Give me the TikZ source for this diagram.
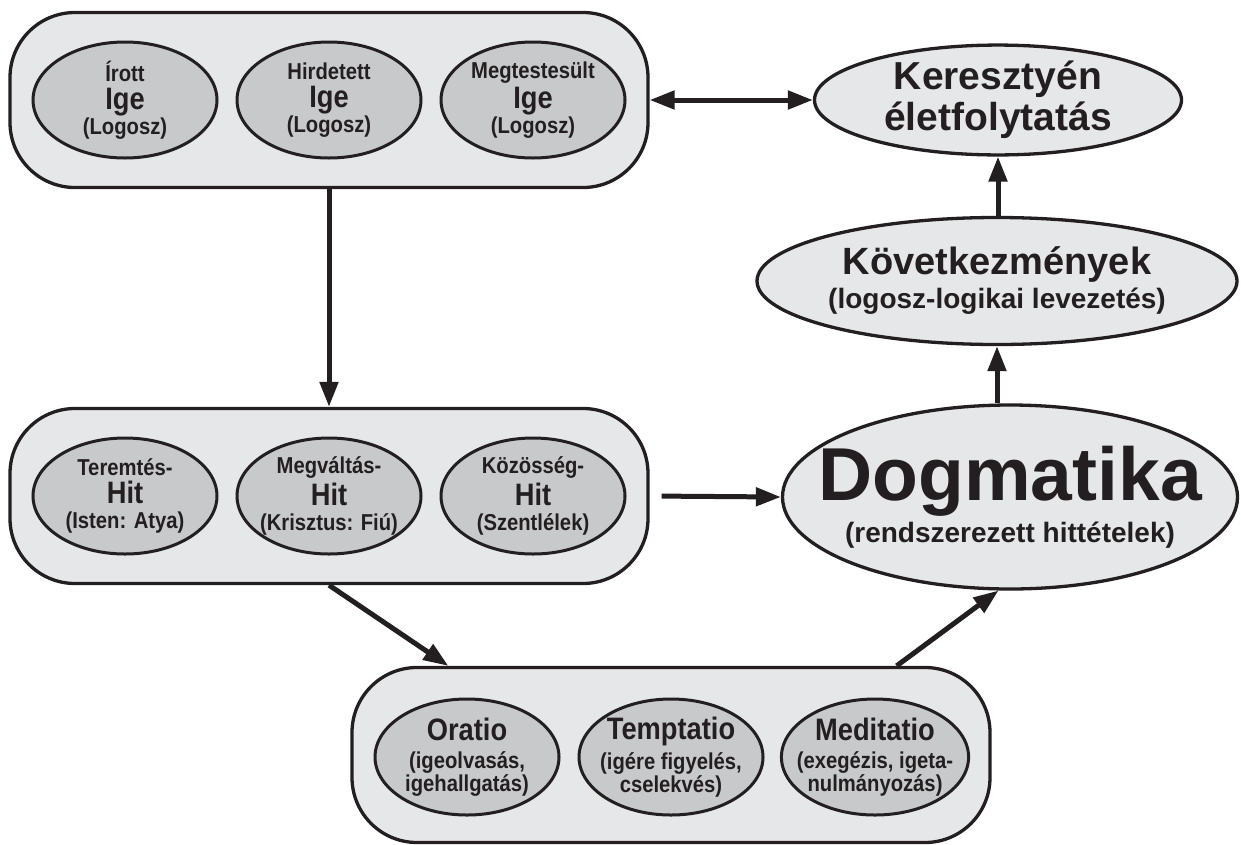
\documentclass[tikz,border=0pt]{standalone}
\usepackage{fontspec}
\setmainfont{Liberation Sans}
\newfontfamily\narrowfont{Liberation Sans}[FakeStretch=0.88]
\usetikzlibrary{arrows.meta,shapes.geometric}
\definecolor{boxgray}{HTML}{E6E7E8}
\definecolor{ovalgray}{HTML}{C8C9CB}
\definecolor{ink}{HTML}{231F20}

\begin{document}
\begin{tikzpicture}[x=1pt, y=-1pt,
		>={Triangle[length=25pt,width=18pt]},
		group/.style={draw=ink, line width=3.3pt, fill=boxgray, rounded corners=65pt, minimum width=638pt, minimum height=175pt},
		part/.style={ellipse, draw=ink, line width=3pt, fill=ovalgray, text=ink, minimum width=184pt, minimum height=116pt, inner xsep=-12pt, inner ysep=0pt, align=center, font=\narrowfont\bfseries\fontsize{23}{25}\selectfont},
		goal/.style={ellipse, draw=ink, line width=3.3pt, fill=boxgray, text=ink, inner sep=0pt, align=center},
		arr/.style={draw=ink, line width=5pt, ->}]
	\useasboundingbox (0,0) rectangle (1241,844);

	% Ige
	\node[group] (ige) at (329,100) {};
	\foreach \x/\n/\a in {125/irott/Írott, 329/hirdetett/Hirdetett, 533/megtest/Megtestesült} {
			\node[part] (\n) at (\x,100) {\a\\[3pt]{\fontsize{31}{31}\selectfont Ige}\\(Logosz)};
		}

	% Hit
	\node[group] (hit) at (329,496) {};
	\foreach \x/\n/\a/\b in {125/teremtes/Teremtés-/(Isten: Atya), 329/megvaltas/Megváltás-/(Krisztus: Fiú), 533/kozosseg/Közösség-/(Szentlélek)} {
			\node[part] (\n) at (\x,496) {\a\\[3pt]{\fontsize{31}{31}\selectfont Hit}\\\b};
		}

	% oratio, temptatio, meditatio
	\node[group] (gyak) at (671,755) {};
	\foreach \x/\n/\a/\b/\c in {467/oratio/Oratio/{(igeolvasás,}/{igehallgatás)}, 671/temptatio/Temptatio/{(igére figyelés,}/{cselekvés)}, 875/meditatio/Meditatio/{(exegézis, igeta-}/{nulmányozás)}} {
			\node[part, font=\narrowfont\bfseries\fontsize{23}{23}\selectfont] (\n) at (\x,757) {{\fontsize{31}{31}\selectfont \a}\\[5pt]\b\\\c};
		}

	% right column
	\node[goal, minimum width=367pt, minimum height=104pt, font=\bfseries\fontsize{39}{41}\selectfont] (ker) at (998,100) {Keresztyén\\életfolytatás};
	\node[goal, minimum width=480pt, minimum height=127pt, font=\bfseries\fontsize{28}{34}\selectfont] (kov) at (997,281) {{\fontsize{38}{38}\selectfont Következmények}\\(logosz-logikai levezetés)};
	\node[goal, inner xsep=-40pt, minimum width=455pt, minimum height=184pt, font=\bfseries\fontsize{28}{30}\selectfont] (dogma) at (1010,497) {{\fontsize{75}{75}\selectfont Dogmatika}\\[5pt](rendszerezett hittételek)};

	\draw[arr, <->] (ige.east) -- (ker.west);
	\draw[arr] (ige.south) -- (hit.north);
	\draw[arr, shorten <=12pt] (hit.east) -- (dogma.west);
	\draw[arr] (hit.south) -- ([xshift=98pt]gyak.north west);
	\draw[arr] ([xshift=-95pt]gyak.north east) -- (dogma.-97);
	\draw[arr] (kov.south |- dogma.north) -- (kov.south);
	\draw[arr] (ker.south |- kov.north) -- (ker.south);
\end{tikzpicture}
\end{document}
